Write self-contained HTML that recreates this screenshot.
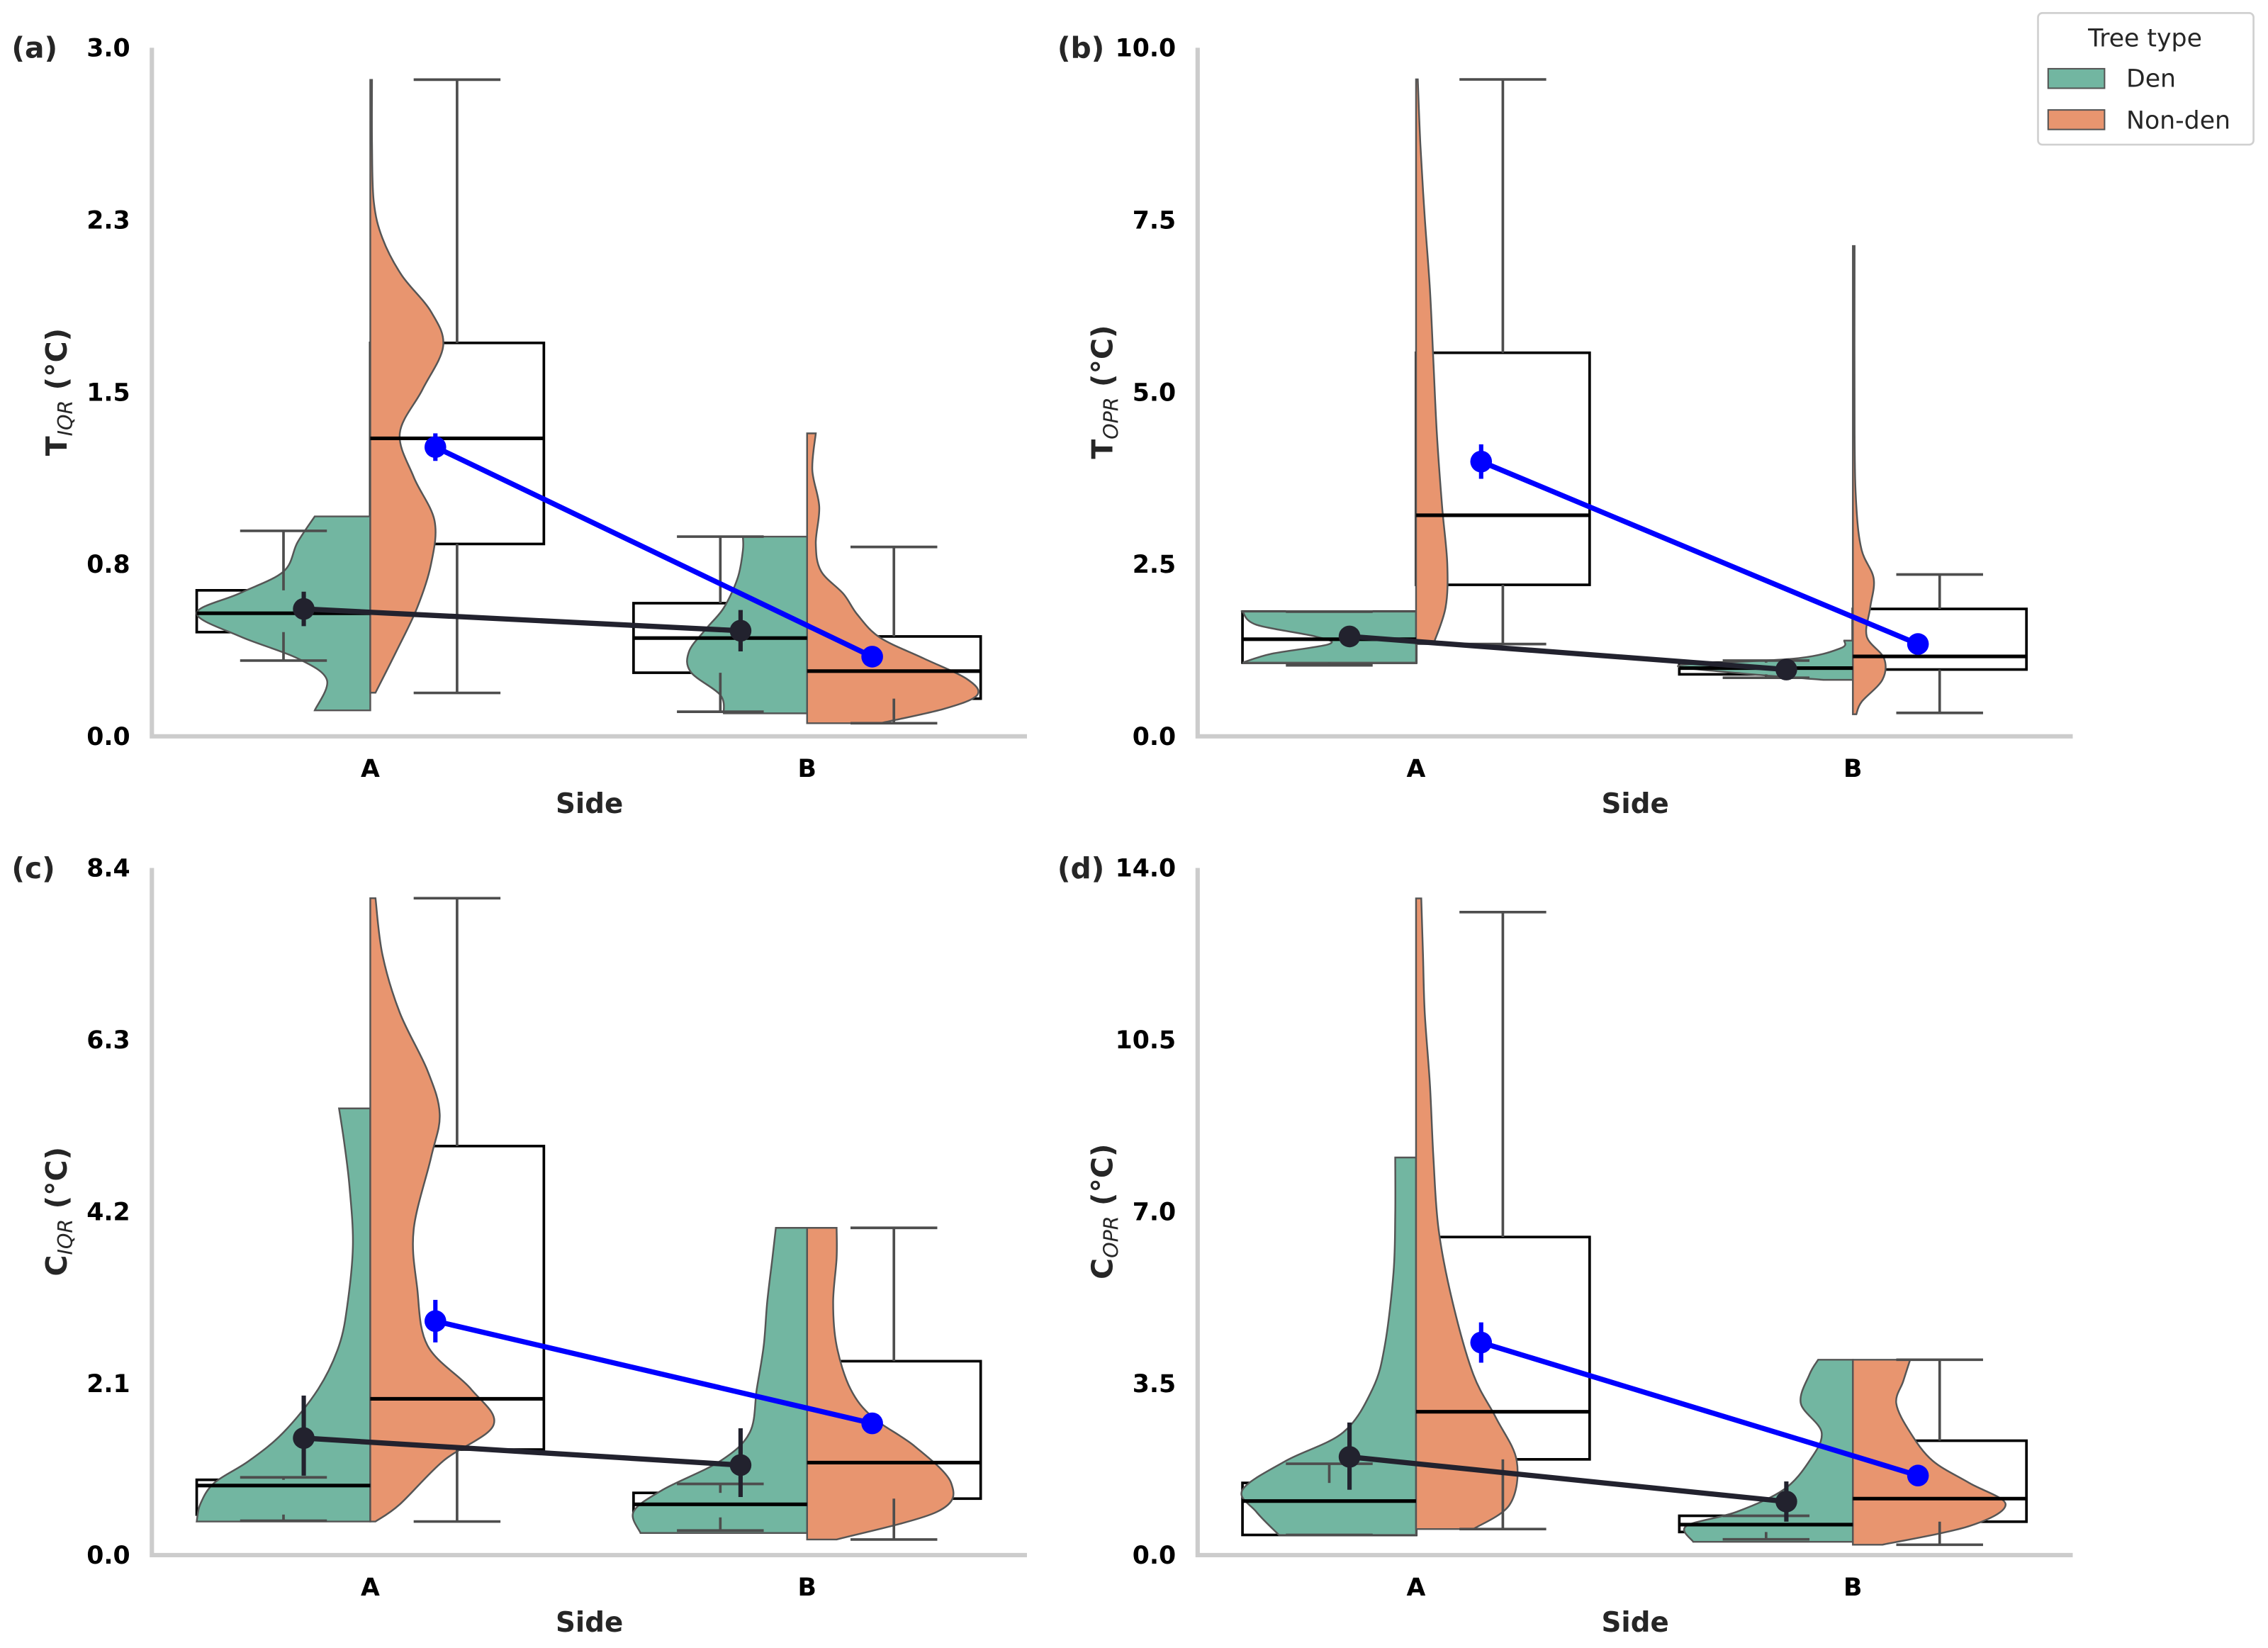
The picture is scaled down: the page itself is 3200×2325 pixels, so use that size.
<!DOCTYPE html>
<html><head><meta charset="utf-8"><style>
html,body{margin:0;padding:0;background:#fff;}
svg{display:block;font-family:"DejaVu Sans","Liberation Sans",sans-serif;}
</style></head><body>
<svg id="fig" width="3200" height="2325" viewBox="0 0 1568 1139.25" xmlns="http://www.w3.org/2000/svg">
<rect width="1568" height="1139.25" fill="#fff"/>
<g>
<rect x="1409" y="9" width="149" height="91" rx="3" fill="#fff" stroke="#d0d0d0" stroke-width="1.3"/>
<text x="1483" y="32" text-anchor="middle" font-size="17" fill="#262626">Tree type</text>
<rect x="1416" y="47.5" width="39" height="13.5" fill="#72b6a1" stroke="#555" stroke-width="1"/>
<text x="1470" y="60" font-size="17" fill="#262626">Den</text>
<rect x="1416" y="76" width="39" height="13.5" fill="#e8956f" stroke="#555" stroke-width="1"/>
<text x="1470" y="89" font-size="17" fill="#262626">Non-den</text>
</g>
</svg>
<script>
const panelLabels=["(a)","(b)","(c)","(d)"];
const yLabelMain=["T","T","C","C"];
const yLabelSub=["IQR","OPR","IQR","OPR"];
const yMax=[3.0,10.0,8.4,14.0];
const yTicks=[[0,0.75,1.5,2.25,3.0],[0,2.5,5.0,7.5,10.0],[0,2.1,4.2,6.3,8.4],[0,3.5,7.0,10.5,14.0]];
const yTickLabels=[["0.0","0.8","1.5","2.3","3.0"],["0.0","2.5","5.0","7.5","10.0"],["0.0","2.1","4.2","6.3","8.4"],["0.0","3.5","7.0","10.5","14.0"]];
const categories=["A","B"];
// box stats per panel: [sideA, sideB], each [whiskLo,q1,median,q3,whiskHi]
const denBox=[
 [[0.33,0.454,0.536,0.636,0.895],[0.107,0.277,0.428,0.58,0.87]],
 [[1.03,1.07,1.41,1.81,1.81],[0.85,0.9,0.99,1.07,1.1]],
 [[0.42,0.495,0.85,0.92,0.95],[0.3,0.46,0.62,0.76,0.87]],
 [[0.41,0.41,1.1,1.47,1.86],[0.32,0.47,0.62,0.8,0.8]]];
const nonBox=[
 [[0.189,0.838,1.298,1.714,2.861],[0.057,0.164,0.284,0.435,0.825]],
 [[1.34,2.2,3.21,5.57,9.54],[0.34,0.97,1.16,1.85,2.35]],
 [[0.41,1.29,1.91,5.0,8.03],[0.19,0.69,1.13,2.37,4.0]],
 [[0.53,1.95,2.92,6.48,13.1],[0.21,0.68,1.15,2.33,3.98]]];
// means [A,B] each [mean, ciLo, ciHi]
const denMean=[
 [[0.555,0.48,0.63],[0.46,0.37,0.55]],
 [[1.45,1.4,1.5],[0.97,0.93,1.01]],
 [[1.43,0.97,1.95],[1.1,0.71,1.55]],
 [[2.0,1.33,2.7],[1.09,0.68,1.5]]];
const nonMean=[
 [[1.26,1.2,1.32],[0.347,0.33,0.365]],
 [[3.99,3.74,4.24],[1.34,1.3,1.38]],
 [[2.86,2.6,3.12],[1.61,1.5,1.72]],
 [[4.33,3.92,4.74],[1.62,1.52,1.72]]];
// violin profiles: values and relative density
const denVals=[
 [[0.113,0.246,0.34,0.435,0.536,0.624,0.718,0.844,0.958],[0.1,0.18,0.28,0.37,0.47,0.56,0.69,0.81,0.87]],
 [[1.07,1.2,1.34,1.45,1.62,1.81],[0.82,0.92,1.03,1.13,1.28,1.39]],
 [[0.41,0.62,0.88,1.15,1.5,2.03,2.56,3.09,3.8,4.51,5.04,5.46],[0.27,0.53,0.8,1.15,1.5,2.03,2.56,3.09,3.63,4.0]],
 [[0.41,0.88,1.33,1.92,2.5,3.39,4.27,5.75,6.93,8.1],[0.27,0.59,0.88,1.33,1.92,2.5,3.09,3.68,3.98]]];
const denDens=[
 [[0.32,0.25,0.42,0.75,1,0.75,0.5,0.42,0.32],[0.48,0.5,0.67,0.68,0.58,0.48,0.4,0.37,0.37]],
 [[1,0.83,0.5,0.58,0.92,1],[0.17,0.67,1,0.33,0.07,0.05]],
 [[1,0.98,0.9,0.7,0.5,0.3,0.18,0.13,0.1,0.12,0.15,0.18],[0.96,1,0.83,0.5,0.33,0.29,0.25,0.23,0.2,0.18]],
 [[0.79,0.92,1,0.75,0.42,0.25,0.18,0.13,0.12,0.12],[0.92,0.96,0.67,0.4,0.25,0.18,0.3,0.25,0.2]]];
const nonVals=[
 [[0.19,0.37,0.56,0.75,0.94,1.13,1.32,1.51,1.7,1.85,2.01,2.17,2.33,2.58,2.86],[0.057,0.12,0.18,0.25,0.34,0.43,0.53,0.62,0.72,0.84,1.0,1.16,1.32]],
 [[1.34,1.87,2.5,3.34,4.39,5.44,6.49,7.54,8.59,9.54],[0.32,0.5,0.82,1.13,1.45,1.87,2.29,2.71,3.34,4.39,7.12]],
 [[0.41,0.62,1.15,1.59,2.03,2.56,3.27,3.98,4.86,5.39,5.92,6.63,7.34,8.03],[0.19,0.53,0.88,1.33,1.68,2.03,2.56,3.09,3.63,4.0]],
 [[0.53,1.03,1.92,2.8,3.68,5.16,6.63,8.1,9.58,11.05,12.23,13.38],[0.21,0.59,1.03,1.47,1.92,2.5,3.09,3.54,3.98]]];
const nonDens=[
 [[0.03,0.15,0.27,0.35,0.37,0.25,0.17,0.3,0.42,0.35,0.18,0.07,0.02,0.01,0.01],[0.42,0.79,0.98,0.92,0.67,0.42,0.29,0.21,0.08,0.05,0.07,0.03,0.05]],
 [[0.1,0.17,0.18,0.15,0.12,0.1,0.08,0.05,0.025,0.01],[0.02,0.05,0.17,0.18,0.08,0.1,0.12,0.05,0.02,0.01,0.01]],
 [[0.03,0.17,0.42,0.71,0.58,0.33,0.27,0.25,0.35,0.4,0.33,0.17,0.07,0.03],[0.17,0.75,0.83,0.62,0.38,0.25,0.17,0.15,0.17,0.17]],
 [[0.33,0.54,0.58,0.46,0.33,0.21,0.13,0.1,0.08,0.05,0.04,0.03],[0.17,0.67,0.88,0.67,0.46,0.33,0.25,0.29,0.33]]];

const NS="http://www.w3.org/2000/svg";
const svg=document.getElementById("fig");
function mk(tag,attrs,parent){const e=document.createElementNS(NS,tag);for(const k in attrs)e.setAttribute(k,attrs[k]);(parent||svg).appendChild(e);return e;}
function smooth(pts){
 let d="";
 for(let i=0;i<pts.length-1;i++){
  const p0=pts[Math.max(0,i-1)],p1=pts[i],p2=pts[i+1],p3=pts[Math.min(pts.length-1,i+2)];
  const c1=[p1[0]+(p2[0]-p0[0])/6,p1[1]+(p2[1]-p0[1])/6];
  const c2=[p2[0]-(p3[0]-p1[0])/6,p2[1]-(p3[1]-p1[1])/6];
  d+=` C${c1[0]},${c1[1]} ${c2[0]},${c2[1]} ${p2[0]},${p2[1]}`;
 }
 return d;
}
const panels=[{x0:105,x1:710,y0:33,y1:509},{x0:828,x1:1433,y0:33,y1:509},{x0:105,x1:710,y0:600,y1:1075},{x0:828,x1:1433,y0:600,y1:1075}];
const W=120;
panels.forEach((P,pi)=>{
 const g=mk("g",{});
 
 
 const ys=v=>P.y1-(v/yMax[pi])*(P.y1-P.y0);
 const xs=i=>P.x0+151+i*302;
 [denBox,nonBox].forEach((B,t)=>{B[pi].forEach((s,i)=>{
  const cx=xs(i); const bx=t===0?cx-W:cx;
  const r=mk("rect",{x:bx,y:ys(s[3]),width:W,height:ys(s[1])-ys(s[3]),fill:"none",stroke:"#000","stroke-width":1.8},g);
  
  
 });});
 [[denVals,denDens,-1,"#72b6a1"],[nonVals,nonDens,1,"#e8956f"]].forEach(([V,D,dir,col],t)=>{
  V[pi].forEach((vals,i)=>{
   const cx=xs(i);
   const pts=vals.map((v,k)=>[cx+dir*D[pi][i][k]*W,ys(v)]);
   let d="M"+cx+","+ys(vals[0])+" L"+pts[0][0]+","+pts[0][1]+smooth(pts)+" L"+cx+","+ys(vals[vals.length-1])+" Z";
   const p=mk("path",{d:d,fill:col,stroke:"#555","stroke-width":1.2},g);
   
   
  });
 });
 [denBox,nonBox].forEach((B,t)=>{B[pi].forEach((s,i)=>{
  const cx=xs(i); const bx=t===0?cx-W:cx; const wc=bx+W/2;
  const m=mk("line",{x1:bx,x2:bx+W,y1:ys(s[2]),y2:ys(s[2]),stroke:"#000","stroke-width":2.5},g);
  
  
  const wk=mk("path",{d:`M${wc},${ys(s[1])}V${ys(s[0])}M${wc-30},${ys(s[0])}H${wc+30}M${wc},${ys(s[3])}V${ys(s[4])}M${wc-30},${ys(s[4])}H${wc+30}`,stroke:"#4d4d4d","stroke-width":1.8,fill:"none"},g);
  
  
 });});
 [[denMean,-46,"#22222e"],[nonMean,45,"#0000ff"]].forEach(([M,off,col],t)=>{
  const pts=M[pi].map((m,i)=>[xs(i)+off,ys(m[0])]);
  const ln=mk("line",{x1:pts[0][0],y1:pts[0][1],x2:pts[1][0],y2:pts[1][1],stroke:col,"stroke-width":3.6},g);
  
  
  M[pi].forEach((m,i)=>{
   const eb=mk("line",{x1:pts[i][0],x2:pts[i][0],y1:ys(m[1]),y2:ys(m[2]),stroke:col,"stroke-width":3},g);
   
   
   const c=mk("circle",{cx:pts[i][0],cy:pts[i][1],r:7.5,fill:col},g);
   
   
  });
 });
 const ax=mk("path",{d:`M${P.x0},${P.y0}V${P.y1}H${P.x1}`,stroke:"#cccccc","stroke-width":3,fill:"none"},g);
 
 
 yTicks[pi].forEach((v,k)=>{
  const t=mk("text",{x:P.x0-15,y:ys(v)+6,"text-anchor":"end","font-size":17,"font-weight":"bold",fill:"#000"},g);
  t.textContent=yTickLabels[pi][k];
  
  
 });
 categories.forEach((c,i)=>{
  const t=mk("text",{x:xs(i),y:P.y1+28,"text-anchor":"middle","font-size":17,"font-weight":"bold",fill:"#000"},g);
  t.textContent=c;
  
  
 });
 const xl=mk("text",{x:(P.x0+P.x1)/2,y:P.y1+53,"text-anchor":"middle","font-size":19,"font-weight":"bold",fill:"#262626"},g);
 xl.textContent="Side";
 
 
 const cy=(P.y0+P.y1)/2;
 const yl=mk("text",{x:0,y:0,transform:`translate(${P.x0-59},${cy}) rotate(-90)`,"text-anchor":"middle","font-size":20,"font-weight":"bold",fill:"#262626"},g);
 
 
 const s1=mk("tspan",{},yl);s1.textContent=yLabelMain[pi];
 const s2=mk("tspan",{"font-style":"italic","font-weight":"normal","font-size":14,dy:4},yl);s2.textContent=yLabelSub[pi];
 const s3=mk("tspan",{dy:-4},yl);s3.textContent=" (°C)";
 const pl=mk("text",{x:P.x0-97,y:P.y0+7,"font-size":20,"font-weight":"bold",fill:"#262626"},g);
 pl.textContent=panelLabels[pi];
 
 
});
</script>
</body></html>
